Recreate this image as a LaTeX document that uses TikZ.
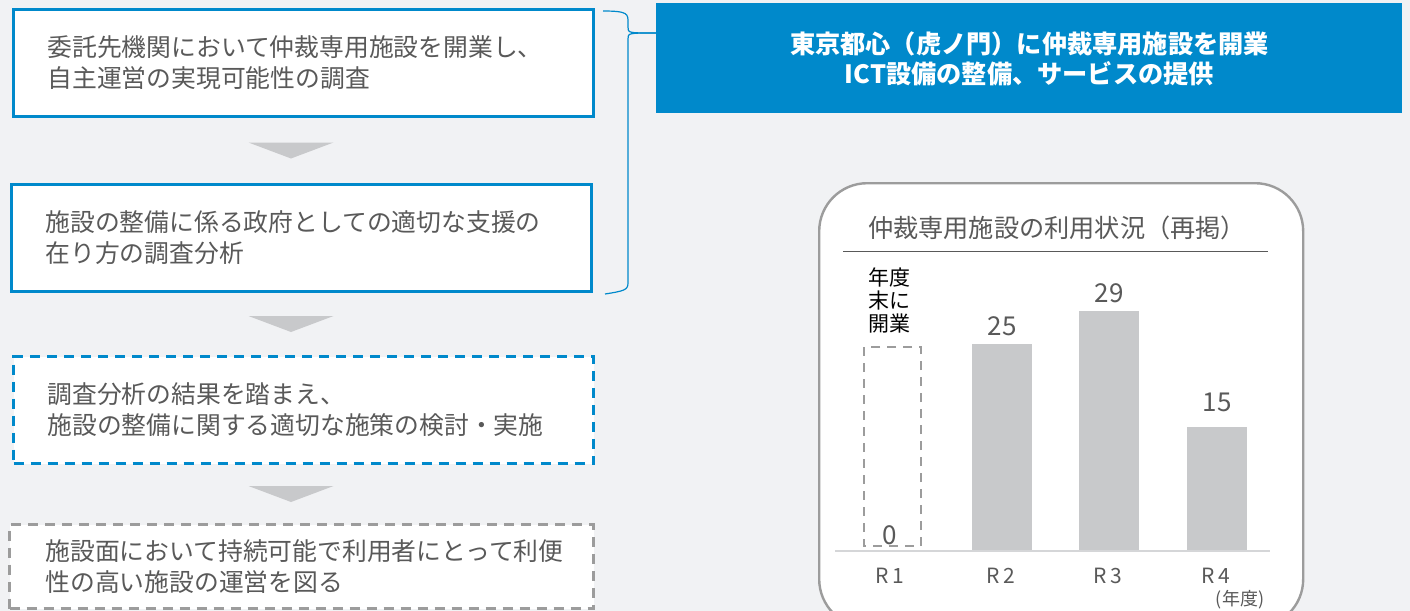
\documentclass[tikz,border=0pt]{standalone}
\usepackage{fontspec}
\setmainfont{Noto Sans CJK JP}
\usetikzlibrary{calc,positioning}
\definecolor{bgGray}{HTML}{F1F2F4}
\definecolor{ctBlue}{HTML}{0089CB}
\definecolor{txtGray}{HTML}{595959}
\definecolor{barGray}{HTML}{C8C9CB}
\definecolor{edgeGray}{HTML}{9C9C9C}
\definecolor{axisGray}{HTML}{D5D6D8}
\tikzset{
	stepbox/.style={draw=ctBlue, line width=1.5pt, fill=white, anchor=north west,
		minimum width=290pt, minimum height=53.5pt, text width=256pt, inner xsep=17pt,
		align=left, text=txtGray, font=\fontsize{12.4}{15.5}\selectfont},
	planbox/.style={stepbox, dash pattern=on 5pt off 3.5pt},
	goalbox/.style={stepbox, draw=edgeGray, dash pattern=on 5pt off 3.5pt},
	flowarrow/.style={fill=barGray},
	numlbl/.style={text=txtGray, font=\fontsize{13}{13}\selectfont, inner sep=1pt},
	yearlbl/.style={text=txtGray, font=\fontsize{10.5}{10.5}\selectfont, inner sep=1pt}
}

\begin{document}
\begin{tikzpicture}[x=0.5pt, y=-0.5pt]
			%%%%% BACKGROUND %%%%%
			\useasboundingbox (0,0) rectangle (1410,611);
			\clip (0,0) rectangle (1410,611);
			\fill[bgGray] (0,0) rectangle (1410,611);
			
			%%%%% FLOW %%%%%
			\node[stepbox] (study) at (12,8) {委託先機関において仲裁専用施設を開業し、\\自主運営の実現可能性の調査};
			\node[stepbox] (support) at (10,183) {施設の整備に係る政府としての適切な支援の\\在り方の調査分析};
			\node[planbox] (measure) at (12,355) {調査分析の結果を踏まえ、\\施設の整備に関する適切な施策の検討・実施};
			\node[goalbox, minimum width=292pt, minimum height=42pt] (goal) at (8,523) {施設面において持続可能で利用者にとって利便\\性の高い施設の運営を図る};
			
			\foreach \a/\b in {study/support, support/measure, measure/goal}
				\fill[flowarrow] ($(\a.south)!0.5!(\b.north)+(-54,-8)$) -- ++(85,0) -- ++(-42.5,16) -- cycle;
			
			%%%%% TOKYO FACILITY %%%%%
			\node[fill=ctBlue, anchor=north west, minimum width=373pt, minimum height=55pt,
				align=center, text=white, font=\bfseries\fontsize{12.6}{15}\selectfont] (tokyo) at (656,3)
				{東京都心（虎ノ門）に仲裁専用施設を開業\\ICT設備の整備、サービスの提供};
			
			\coordinate (braceTop) at ($(study.north east)+(8,3)$);
			\coordinate (braceBot) at ($(support.south east)+(12,1)$);
			\coordinate (braceTip) at ($(tokyo.north west)+(0,30)$);
			\draw[ctBlue, line width=0.6pt] (braceTop) .. controls (628,11) and (628,14) .. (628,22) -- (628,27)
				.. controls (628,33) .. (braceTip);
			\draw[ctBlue, line width=0.6pt] (braceTip) .. controls (628,33) .. (628,39) -- (628,283)
				.. controls (628,290) and (624,291) .. (braceBot);
			
			%%%%% CHART %%%%%
			\node[draw=edgeGray, line width=1.2pt, fill=white, rounded corners=24pt, anchor=north west,
				minimum width=242pt, minimum height=222pt] (panel) at (818,182) {};
			\node[text=txtGray, font=\fontsize{12.6}{12.6}\selectfont] (title) at (1057,228) {仲裁専用施設の利用状況（再掲）};
			\draw[txtGray, line width=0.4pt] (843,251) -- (1268,251);
			
			\draw[edgeGray, line width=1.4pt, dash pattern=on 4.5pt off 3.5pt] (864,347) rectangle (921,546);
			\node[numlbl] (v1) at (890,535) {0};
			\node[align=center, font=\fontsize{10.5}{11.5}\selectfont, inner sep=0pt] (open) at (889,300) {年度\\末に\\開業};
			
			\foreach \n/\x/\v/\ly in {2/1002/25/326, 3/1109/29/293, 4/1217/15/402} {
				\fill[barGray] (\x-30,551) rectangle (\x+30,{551-8.27*\v});
				\node[numlbl] (v\n) at (\x,\ly) {\v};
			}
			\draw[axisGray, line width=1pt] (835,551) -- (1270,551);
			
			\foreach \n/\x in {1/890, 2/1001, 3/1108, 4/1216}
				\node[yearlbl] (r\n) at (\x,576) {R\,\n};
			\node[text=txtGray, font=\fontsize{9}{9}\selectfont, inner sep=0pt] (unit) at (1240,600) {(年度)};
			
			%%%%% END %%%%%
\end{tikzpicture}
\end{document}
